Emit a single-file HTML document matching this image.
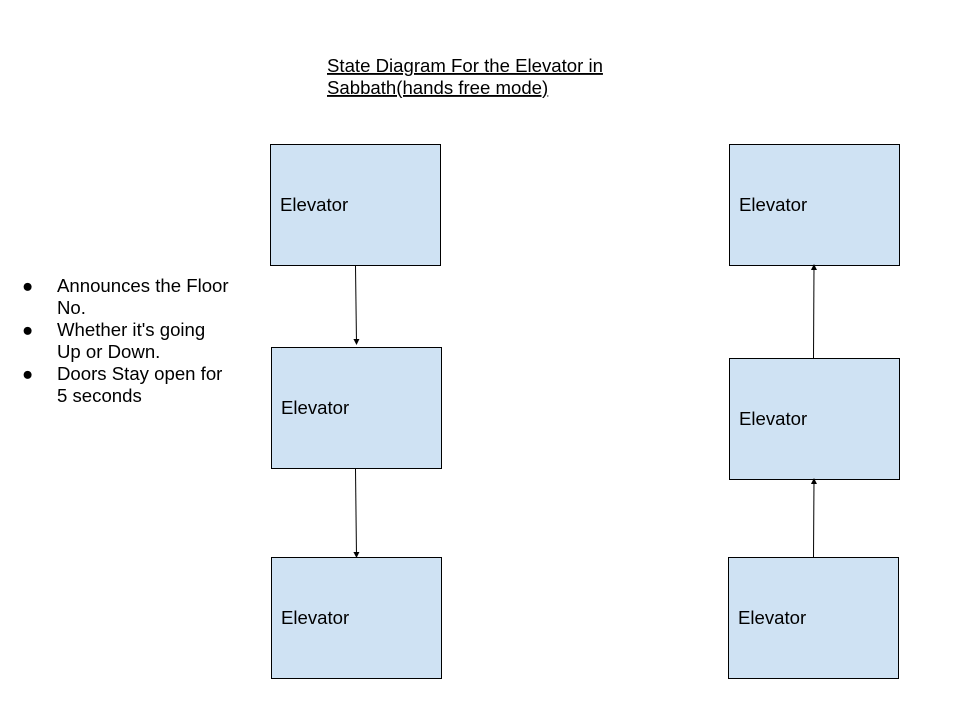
<!DOCTYPE html>
<html><head><meta charset="utf-8"><style>
html,body{margin:0;padding:0;background:#fff;}
svg text{font-family:"Liberation Sans",Arial,sans-serif;font-size:18.6px;fill:#000;}
</style></head><body>
<svg width="960" height="720" xmlns="http://www.w3.org/2000/svg">
<defs><marker id="a" markerWidth="6" markerHeight="6" refX="5" refY="3" orient="auto" markerUnits="userSpaceOnUse"><path d="M0,0 L6,3 L0,6 z" fill="#000"/></marker></defs>
<text x="327" y="72" text-decoration="underline">State Diagram For the Elevator in</text>
<text x="327" y="94" text-decoration="underline">Sabbath(hands free mode)</text>
<g fill="#cfe2f3" stroke="#000" stroke-width="1">
<rect x="270.5" y="144.5" width="170" height="121"/>
<rect x="271.5" y="347.5" width="170" height="121"/>
<rect x="271.5" y="557.5" width="170" height="121"/>
<rect x="729.5" y="144.5" width="170" height="121"/>
<rect x="729.5" y="358.5" width="170" height="121"/>
<rect x="728.5" y="557.5" width="170" height="121"/>
</g>
<text x="280" y="211">Elevator</text>
<text x="281" y="414">Elevator</text>
<text x="281" y="624">Elevator</text>
<text x="739" y="211">Elevator</text>
<text x="739" y="425">Elevator</text>
<text x="738" y="624">Elevator</text>
<g stroke="#000" stroke-width="1" marker-end="url(#a)">
<line x1="355.5" y1="266" x2="356.5" y2="344"/>
<line x1="355.5" y1="469" x2="356.5" y2="557"/>
<line x1="813.5" y1="358" x2="814" y2="265"/>
<line x1="813.5" y1="557" x2="814" y2="479"/>
</g>
<text x="22" y="292">●</text><text x="57" y="292">Announces the Floor</text>
<text x="57" y="314">No.</text>
<text x="22" y="336">●</text><text x="57" y="336">Whether it's going</text>
<text x="57" y="358">Up or Down.</text>
<text x="22" y="380">●</text><text x="57" y="380">Doors Stay open for</text>
<text x="57" y="402">5 seconds</text>
</svg>
</body></html>
